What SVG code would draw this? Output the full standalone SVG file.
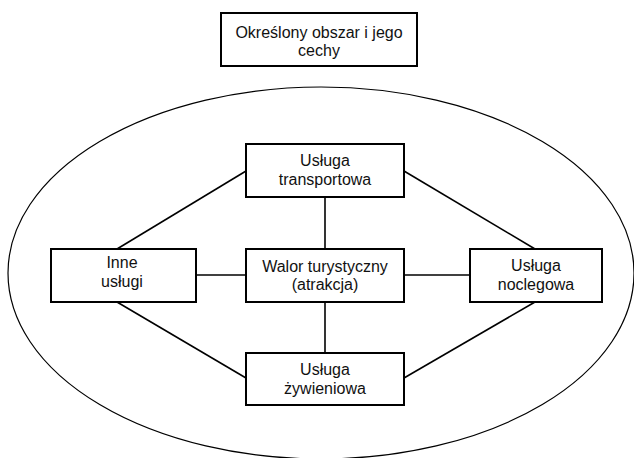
<svg xmlns="http://www.w3.org/2000/svg" width="634" height="458" viewBox="0 0 634 458">
<style>
.box{fill:#fff;stroke:#000;stroke-width:2}
.t{font-family:"Liberation Sans",Arial,sans-serif;font-size:16px;fill:#111;text-anchor:middle}
.c{stroke:#000;stroke-width:1.6;fill:none}
</style>
<rect width="634" height="458" fill="#fff"/>
<ellipse cx="321" cy="273" rx="313" ry="186" fill="none" stroke="#000" stroke-width="1.2"/>
<g id="connectors">
<line class="c" x1="246" y1="171" x2="117" y2="249"/>
<line class="c" x1="404" y1="171" x2="535" y2="249"/>
<line class="c" x1="117" y1="302" x2="246" y2="378"/>
<line class="c" x1="535" y1="302" x2="404" y2="378"/>
<line class="c" x1="325" y1="197" x2="325" y2="249"/>
<line class="c" x1="325" y1="302" x2="325" y2="353"/>
<line class="c" x1="196" y1="275" x2="246" y2="275"/>
<line class="c" x1="404" y1="275" x2="470" y2="275"/>
</g>
<g id="obszar">
<rect class="box" x="221" y="13" width="196" height="53"/>
<text class="t" x="319" y="38">Określony obszar i jego</text>
<text class="t" x="319" y="56">cechy</text>
</g>
<g id="transport">
<rect class="box" x="246" y="144" width="158" height="53"/>
<text class="t" x="325" y="166">Usługa</text>
<text class="t" x="325" y="185">transportowa</text>
</g>
<g id="walor">
<rect class="box" x="246" y="249" width="158" height="53"/>
<text class="t" x="325" y="272">Walor turystyczny</text>
<text class="t" x="325" y="290">(atrakcja)</text>
</g>
<g id="inne">
<rect class="box" x="51" y="249" width="145" height="53"/>
<text class="t" x="122" y="268">Inne</text>
<text class="t" x="122" y="287">usługi</text>
</g>
<g id="nocleg">
<rect class="box" x="470" y="249" width="132" height="53"/>
<text class="t" x="536" y="271">Usługa</text>
<text class="t" x="536" y="290">noclegowa</text>
</g>
<g id="zywienie">
<rect class="box" x="246" y="353" width="158" height="52"/>
<text class="t" x="325" y="375">Usługa</text>
<text class="t" x="325" y="394">żywieniowa</text>
</g>
</svg>
